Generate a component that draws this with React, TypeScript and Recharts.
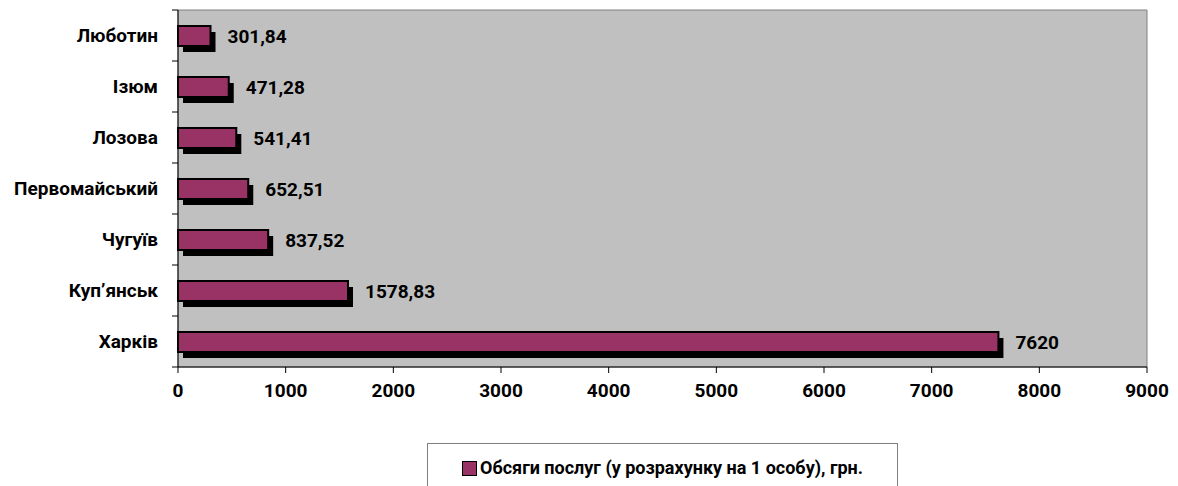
import { BarChart, Bar, XAxis, YAxis, ReferenceArea, LabelList } from 'recharts'

const cities = ['Люботин', 'Ізюм', 'Лозова', 'Первомайський', 'Чугуїв', 'Куп’янськ', 'Харків']
const services = [301.84, 471.28, 541.41, 652.51, 837.52, 1578.83, 7620]
const xTicks = [0, 1000, 2000, 3000, 4000, 5000, 6000, 7000, 8000, 9000]
const seriesName = 'Обсяги послуг (у розрахунку на 1 особу), грн.'

const FONT = 'Roboto, "Noto Sans", sans-serif'
const PLOT_TOP = 10
const PLOT_H = 357
const BAND = PLOT_H / cities.length

function fmtValue(v: number): string {
  return String(v).replace('.', ',')
}

function ShadowBar(props: any) {
  const { x, y, width, height } = props
  if (width == null || height == null) return null
  return (
    <g>
      <rect x={x + 5} y={y + 6} width={width} height={height} fill="#000" />
      <rect x={x} y={y} width={width} height={height} fill="#993366" stroke="#000" strokeWidth={2} />
    </g>
  )
}

// excel-style: tick marks sit between categories
function CityTick(props: any) {
  const { x, y, payload, index } = props
  return (
    <g>
      {index === 0 && <line x1={x + 2} x2={x + 8} y1={y - BAND / 2} y2={y - BAND / 2} stroke="#000" />}
      <line x1={x + 2} x2={x + 8} y1={y + BAND / 2} y2={y + BAND / 2} stroke="#000" />
      <text x={x - 12} y={y} dy={6} textAnchor="end" fontFamily={FONT} fontWeight="bold" fontSize={19} fill="#000">
        {payload.value}
      </text>
    </g>
  )
}

function LegendBox() {
  return (
    <div
      style={{
        position: 'absolute',
        left: 427,
        top: 443,
        width: 471,
        height: 60,
        border: '1px solid #808080',
        boxSizing: 'border-box',
        background: '#fff',
        display: 'flex',
        alignItems: 'flex-start',
        justifyContent: 'center',
        paddingTop: 13,
        fontFamily: FONT,
        fontWeight: 'bold',
        fontSize: 18,
        lineHeight: '22px',
        color: '#000',
      }}
    >
      <span
        style={{
          width: 13,
          height: 13,
          background: '#993366',
          border: '1px solid #000',
          marginRight: 3,
          marginTop: 4,
          display: 'inline-block',
        }}
      />
      {seriesName}
    </div>
  )
}

export default function App() {
  const data = cities.map((city, i) => ({ city, value: services[i] }))

  return (
    <div style={{ position: 'absolute', left: 0, top: 0, width: 1178, height: 486, background: '#fff', overflow: 'hidden' }}>
      <BarChart
        width={1178}
        height={486}
        data={data}
        layout="vertical"
        margin={{ top: PLOT_TOP, right: 31, bottom: 89, left: 0 }}
      >
        <ReferenceArea x1={0} x2={9000} fill="#C0C0C0" fillOpacity={1} stroke="#808080" strokeWidth={1} />
        <XAxis
          type="number"
          domain={[0, 9000]}
          ticks={xTicks}
          interval={0}
          height={30}
          stroke="#000"
          tickLine={{ stroke: '#000' }}
          tickSize={6}
          tick={{ fill: '#000', fontFamily: FONT, fontWeight: 'bold', fontSize: 19 }}
          tickMargin={11}
        />
        <YAxis
          type="category"
          dataKey="city"
          width={178}
          stroke="#000"
          tickLine={false}
          tick={<CityTick />}
          interval={0}
        />
        <Bar dataKey="value" name={seriesName} barSize={20} shape={<ShadowBar />} isAnimationActive={false}>
          <LabelList
            dataKey="value"
            position="right"
            offset={17}
            formatter={(v: any) => fmtValue(Number(v))}
            style={{ fill: '#000', fontFamily: FONT, fontWeight: 'bold', fontSize: 19 }}
          />
        </Bar>
      </BarChart>
      <LegendBox />
    </div>
  )
}
